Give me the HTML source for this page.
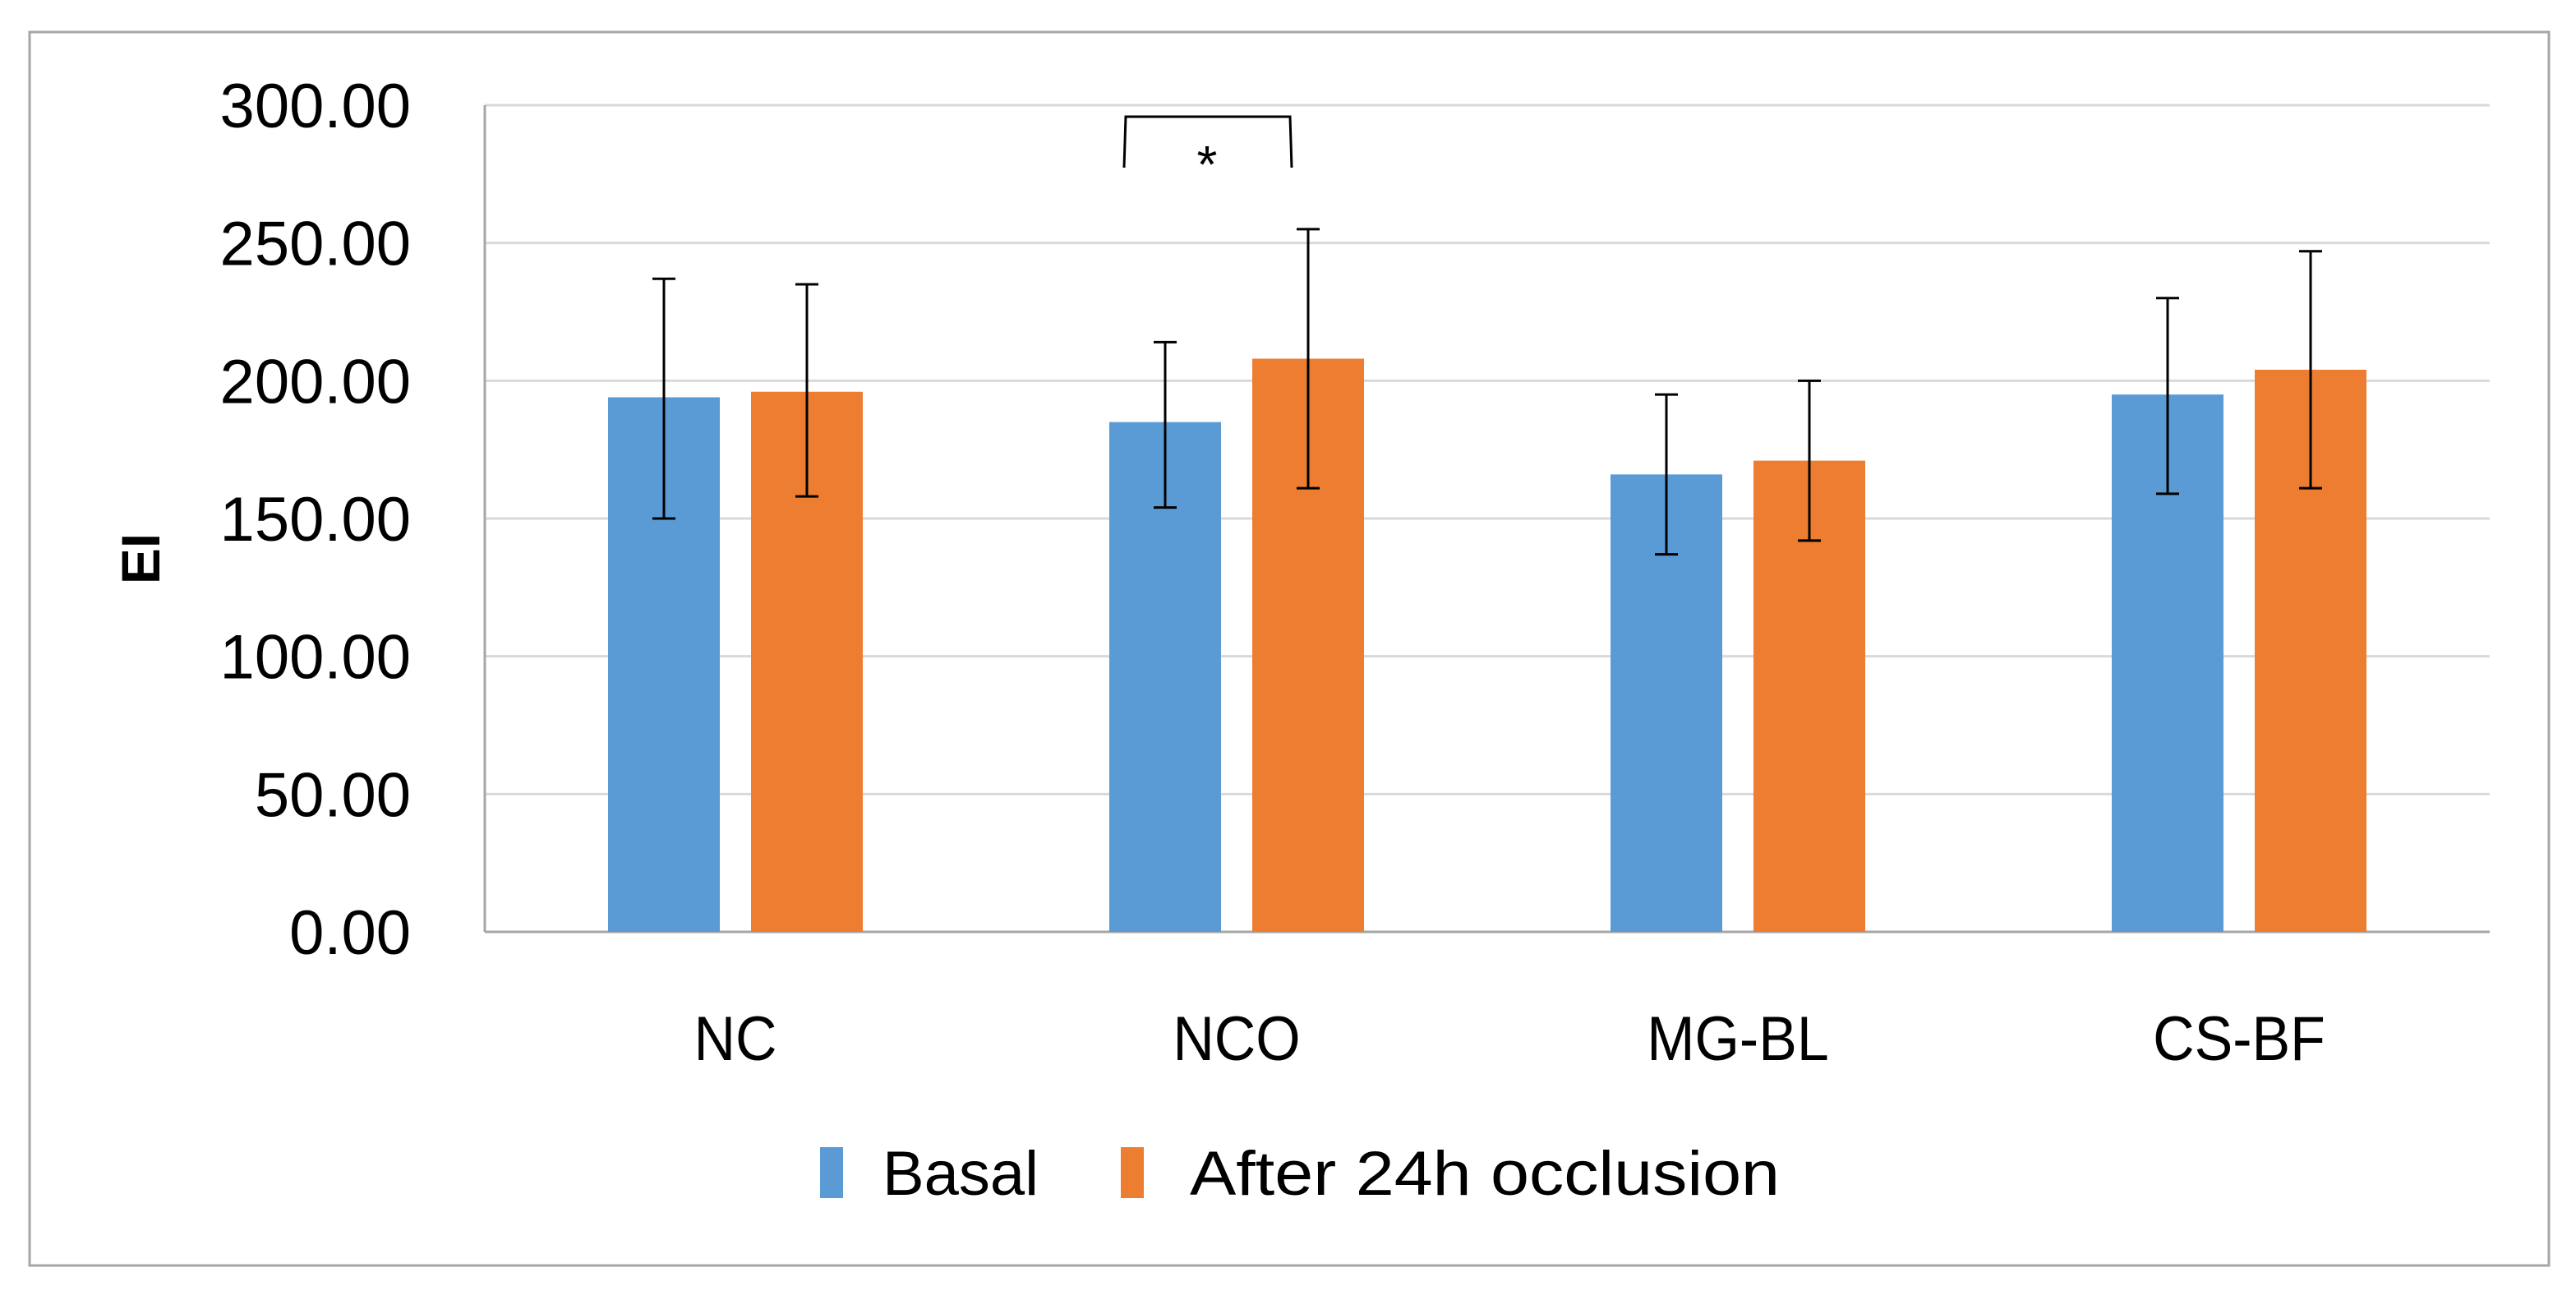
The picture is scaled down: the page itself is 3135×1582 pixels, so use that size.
<!DOCTYPE html>
<html><head><meta charset="utf-8"><style>
html,body{margin:0;padding:0;background:#fff;}
svg{display:block;font-family:"Liberation Sans",sans-serif;}
</style></head><body>
<svg id="chart" width="3135" height="1582" viewBox="0 0 3135 1582">
<rect x="36" y="39" width="3066" height="1501" fill="#fff" stroke="#a6a6a6" stroke-width="3"/>
<g id="grid"></g><g id="bars"></g><g id="errs"></g><g id="ylab"></g><g id="xlab"></g>
<line x1="590" y1="128" x2="590" y2="1134" stroke="#a6a6a6" stroke-width="3"/>
<text x="0" y="0" transform="translate(194,680) rotate(-90)" text-anchor="middle" font-size="66" font-weight="bold">EI</text>
<path d="M1368,204 L1370,142 L1570,142 L1572,204" fill="none" stroke="#000" stroke-width="3"/>
<text x="1469" y="222" text-anchor="middle" font-size="64">*</text>
<g>
<rect x="998" y="1396" width="28" height="62" fill="#5b9bd5"/>
<text x="1074" y="1454" font-size="76" textLength="190" lengthAdjust="spacingAndGlyphs">Basal</text>
<rect x="1364" y="1396" width="28" height="62" fill="#ed7d31"/>
<text x="1448" y="1454" font-size="76" textLength="718" lengthAdjust="spacingAndGlyphs">After 24h occlusion</text>
</g>
</svg>
<script>
const categories=["NC","NCO","MG-BL","CS-BF"];
const basal=[194,185,166,195];
const after=[196,208,171,204];
const basalHi=[237,214,195,230];
const basalLo=[150,154,137,159];
const afterHi=[235,255,200,247];
const afterLo=[158,161,142,161];
const ticks=[0,50,100,150,200,250,300];
const tickLabels=["0.00","50.00","100.00","150.00","200.00","250.00","300.00"];
const NS="http://www.w3.org/2000/svg";
const L=590,R=3030,T=128,B=1134,YMAX=300;
const y=v=>B-(v/YMAX)*(B-T);
const band=(R-L)/categories.length;
const cx=i=>L+band*(i+0.5);
const BW=136,GAP=38;
function mk(p,tag,a){const e=document.createElementNS(NS,tag);for(const k in a)e.setAttribute(k,a[k]);p.appendChild(e);return e;}
const grid=document.getElementById('grid'),bars=document.getElementById('bars'),errs=document.getElementById('errs'),ylab=document.getElementById('ylab'),xlab=document.getElementById('xlab');
ticks.forEach((t,i)=>{
  const g=mk(grid,'line',{x1:L,x2:R,y1:y(t),y2:y(t),stroke:t===0?'#a6a6a6':'#d9d9d9','stroke-width':3});
  
  
  const tx=mk(ylab,'text',{x:500,y:y(t)+27,'text-anchor':'end','font-size':76});
  tx.textContent=tickLabels[i];
  
  
});
function drawSeries(vals,hi,lo,off,color,name){
  vals.forEach((v,i)=>{
    const x=cx(i)+off-BW/2;
    const r=mk(bars,'rect',{x:x,y:y(v),width:BW,height:B-y(v),fill:color});
    
    
    const m=x+BW/2;
    const e=mk(errs,'path',{d:`M${m},${y(hi[i])}V${y(lo[i])}M${m-14},${y(hi[i])}H${m+14}M${m-14},${y(lo[i])}H${m+14}`,stroke:'#000','stroke-width':3,fill:'none'});
    
    
  });
}
drawSeries(basal,basalHi,basalLo,-(BW+GAP)/2,'#5b9bd5','basal');
drawSeries(after,afterHi,afterLo,(BW+GAP)/2,'#ed7d31','after');
categories.forEach((c,i)=>{
  const t=mk(xlab,'text',{x:0,y:0,'text-anchor':'middle','font-size':76,transform:`translate(${cx(i)},1290) scale(0.92,1)`});
  t.textContent=c;
  
  
});
</script>
</body></html>
